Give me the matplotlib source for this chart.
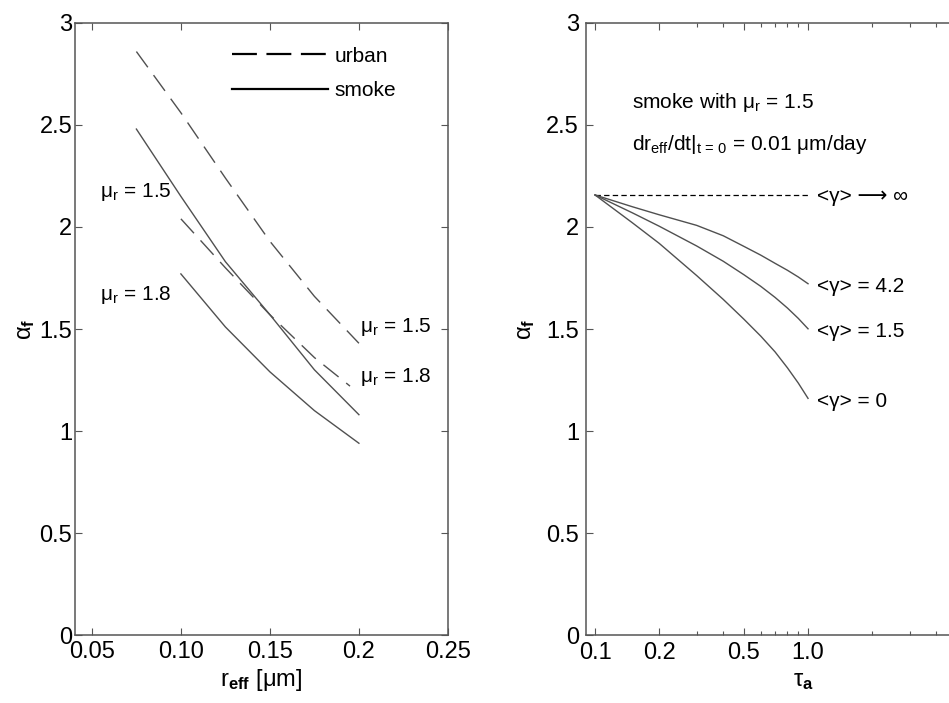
import matplotlib
matplotlib.use("Agg")
import matplotlib.pyplot as plt
import numpy as np

plt.rcParams['font.family'] = ['Liberation Sans', 'DejaVu Sans']
plt.rcParams['mathtext.fontset'] = 'custom'
plt.rcParams['mathtext.rm'] = 'Liberation Sans'
plt.rcParams['mathtext.it'] = 'Liberation Sans:italic'
plt.rcParams['mathtext.bf'] = 'Liberation Sans:bold'

# left panel: alpha_f vs r_eff
r_urban_15 = [0.075, 0.10, 0.125, 0.15, 0.175, 0.20]
a_urban_15 = [2.86, 2.56, 2.24, 1.93, 1.66, 1.43]
r_urban_18 = [0.10, 0.125, 0.15, 0.175, 0.195]
a_urban_18 = [2.04, 1.80, 1.57, 1.36, 1.22]
r_smoke_15 = [0.075, 0.10, 0.125, 0.15, 0.175, 0.20]
a_smoke_15 = [2.48, 2.15, 1.83, 1.57, 1.30, 1.08]
r_smoke_18 = [0.10, 0.125, 0.15, 0.175, 0.20]
a_smoke_18 = [1.77, 1.51, 1.29, 1.10, 0.94]

# right panel: alpha_f vs tau_a
tau = [0.1, 0.15, 0.2, 0.3, 0.4, 0.5, 0.6, 0.7, 0.8, 0.9, 1.0]
a_gamma_inf = [2.157] * len(tau)
a_gamma_42 = [2.157, 2.099, 2.06, 2.008, 1.957, 1.905, 1.862, 1.822, 1.788, 1.755, 1.722]
a_gamma_15 = [2.157, 2.069, 2.004, 1.907, 1.832, 1.766, 1.709, 1.655, 1.603, 1.552, 1.501]
a_gamma_0 = [2.157, 2.02, 1.92, 1.762, 1.645, 1.548, 1.465, 1.388, 1.31, 1.235, 1.16]

left_xticks = [0.05, 0.10, 0.15, 0.2, 0.25]
left_xticklabels = ['0.05', '0.10', '0.15', '0.2', '0.25']
yticks = [0, 0.5, 1, 1.5, 2, 2.5, 3]
yticklabels = ['0', '0.5', '1', '1.5', '2', '2.5', '3']
right_xticks = [0.1, 0.2, 0.5, 1.0]
right_xticklabels = ['0.1', '0.2', '0.5', '1.0']

line_c = '#505050'
spine_c = '#555555'
tick_fs = 17
ann_fs = 15

fig = plt.figure(figsize=(9.49, 7.03), dpi=100)
ax1 = fig.add_axes([0.079, 0.0967, 0.393, 0.8706])
ax2 = fig.add_axes([0.6175, 0.0967, 0.4584, 0.8706])

for ax in (ax1, ax2):
    for s in ax.spines.values():
        s.set_color(spine_c)
        s.set_linewidth(1.1)
    ax.tick_params(which='both', direction='in', top=True, right=True,
                   colors=spine_c, labelcolor='black', labelsize=tick_fs)
    ax.tick_params(which='major', length=5, width=0.8)
    ax.tick_params(which='minor', length=3, width=0.8)
    ax.tick_params(axis='y', pad=2)
    ax.tick_params(axis='x', pad=4)
    ax.set_ylim(0, 3)
    ax.set_yticks(yticks)
    ax.set_yticklabels(yticklabels)
ax2.tick_params(axis='y', pad=5)
ax2.tick_params(axis='x', pad=5)

urban_dash = (0, (14, 7))
ax1.plot(r_urban_15, a_urban_15, color=line_c, lw=1.0, linestyle=urban_dash, label='urban')
ax1.plot(r_urban_18, a_urban_18, color=line_c, lw=1.0, linestyle=urban_dash)
ax1.plot(r_smoke_15, a_smoke_15, color=line_c, lw=1.0, label='smoke')
ax1.plot(r_smoke_18, a_smoke_18, color=line_c, lw=1.0)
ax1.set_xlim(0.0405, 0.25)
ax1.set_xticks(left_xticks)
ax1.set_xticklabels(left_xticklabels)

leg = ax1.legend(loc='upper left', bbox_to_anchor=(0.40, 0.975), frameon=False,
                 fontsize=ann_fs, handlelength=4.6, handletextpad=0.3,
                 labelspacing=0.75, borderaxespad=0)
for h in leg.get_lines():
    h.set_color('black')
    h.set_linewidth(1.6)
leg.get_lines()[0].set_linestyle((0, (11.2, 4.3)))

ax1.text(0.0545, 2.147, 'μ$_\\mathrm{r}$ = 1.5', fontsize=ann_fs, va='baseline')
ax1.text(0.0545, 1.642, 'μ$_\\mathrm{r}$ = 1.8', fontsize=ann_fs, va='baseline')
ax1.text(0.2005, 1.485, 'μ$_\\mathrm{r}$ = 1.5', fontsize=ann_fs, va='baseline')
ax1.text(0.2005, 1.24, 'μ$_\\mathrm{r}$ = 1.8', fontsize=ann_fs, va='baseline')

ax1.set_xlabel('r$_\\mathbf{eff}$ [μm]', fontsize=tick_fs, labelpad=3)
ax1.set_ylabel('α$_\\mathbf{f}$', fontsize=tick_fs, labelpad=2)

ax2.plot(tau, a_gamma_inf, color='black', lw=0.9, linestyle=(0, (4.3, 2.6)))
ax2.plot(tau, a_gamma_42, color=line_c, lw=1.0)
ax2.plot(tau, a_gamma_15, color=line_c, lw=1.0)
ax2.plot(tau, a_gamma_0, color=line_c, lw=1.0)
ax2.set_xscale('log')
ax2.set_xlim(0.0907, 10)
ax2.set_xticks(right_xticks)
ax2.set_xticklabels(right_xticklabels)
ax2.tick_params(axis='x', which='minor', labelbottom=False)

ax2.text(0.149, 2.583, 'smoke with μ$_\\mathrm{r}$ = 1.5', fontsize=ann_fs, va='baseline')
ax2.text(0.149, 2.377, 'dr$_\\mathrm{eff}$/dt|$_\\mathrm{t\\,=\\,0}$ = 0.01 μm/day',
         fontsize=ann_fs, va='baseline')
ax2.text(1.10, 2.123, '<γ> ⟶ ∞', fontsize=ann_fs, va='baseline')
ax2.text(1.10, 1.68, '<γ> = 4.2', fontsize=ann_fs, va='baseline')
ax2.text(1.10, 1.46, '<γ> = 1.5', fontsize=ann_fs, va='baseline')
ax2.text(1.10, 1.118, '<γ> = 0', fontsize=ann_fs, va='baseline')

ax2.set_xlabel('τ$_\\mathbf{a}$', fontsize=tick_fs, labelpad=4)
ax2.set_ylabel('α$_\\mathbf{f}$', fontsize=tick_fs)
ax2.yaxis.set_label_coords(-0.112, 0.50)

fig.savefig('out.png', dpi=100)
